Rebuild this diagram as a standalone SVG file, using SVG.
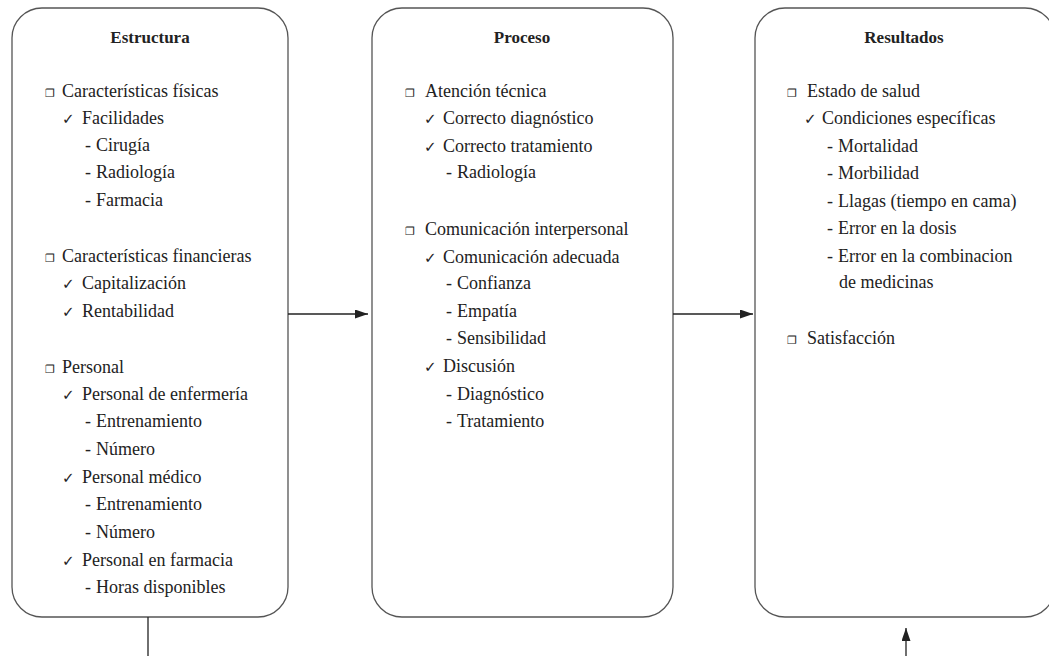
<svg xmlns="http://www.w3.org/2000/svg" width="1049" height="656" viewBox="0 0 1049 656">
<style>
.box{fill:#fff;stroke:#555;stroke-width:1.3}
.t{font-family:"Liberation Serif",serif;font-size:18px;fill:#222}
.h{font-family:"Liberation Serif",serif;font-size:17px;font-weight:bold;fill:#222;text-anchor:middle}
.b{font-family:"DejaVu Sans",sans-serif;font-size:11px;fill:#222}
.c{font-family:"DejaVu Sans",sans-serif;font-size:15px;fill:#222}
.ln{stroke:#222;stroke-width:1.3;fill:none}
</style>
<defs>
<marker id="ah" viewBox="0 0 13 9" refX="13" refY="4.5" markerWidth="13" markerHeight="9" markerUnits="userSpaceOnUse" orient="auto">
<path d="M0,0 L13,4.5 L0,9 Z" fill="#222"/>
</marker>
</defs>
<rect width="1049" height="656" fill="#fff"/>
<g id="estructura">
<rect class="box" x="12" y="8" width="276" height="609" rx="30" ry="30"/>
<text class="h" x="150" y="43">Estructura</text>
<text class="b" x="45" y="97">❐</text><text class="t" x="62" y="97">Características físicas</text>
<text class="c" x="62" y="124">✓</text><text class="t" x="82" y="124">Facilidades</text>
<text class="t" x="85" y="151">-</text><text class="t" x="96" y="151">Cirugía</text>
<text class="t" x="85" y="178">-</text><text class="t" x="96" y="178">Radiología</text>
<text class="t" x="85" y="206">-</text><text class="t" x="96" y="206">Farmacia</text>
<text class="b" x="45" y="262">❐</text><text class="t" x="62" y="262">Características financieras</text>
<text class="c" x="62" y="289">✓</text><text class="t" x="82" y="289">Capitalización</text>
<text class="c" x="62" y="317">✓</text><text class="t" x="82" y="317">Rentabilidad</text>
<text class="b" x="45" y="373">❐</text><text class="t" x="62" y="373">Personal</text>
<text class="c" x="62" y="400">✓</text><text class="t" x="82" y="400">Personal de enfermería</text>
<text class="t" x="85" y="427">-</text><text class="t" x="96" y="427">Entrenamiento</text>
<text class="t" x="85" y="455">-</text><text class="t" x="96" y="455">Número</text>
<text class="c" x="62" y="483">✓</text><text class="t" x="82" y="483">Personal médico</text>
<text class="t" x="85" y="510">-</text><text class="t" x="96" y="510">Entrenamiento</text>
<text class="t" x="85" y="538">-</text><text class="t" x="96" y="538">Número</text>
<text class="c" x="62" y="566">✓</text><text class="t" x="82" y="566">Personal en farmacia</text>
<text class="t" x="85" y="593">-</text><text class="t" x="96" y="593">Horas disponibles</text>
</g>
<g id="proceso">
<rect class="box" x="372" y="8" width="301" height="609" rx="30" ry="30"/>
<text class="h" x="522" y="43">Proceso</text>
<text class="b" x="405" y="97">❐</text><text class="t" x="425" y="97">Atención técnica</text>
<text class="c" x="424" y="124">✓</text><text class="t" x="443" y="124">Correcto diagnóstico</text>
<text class="c" x="424" y="152">✓</text><text class="t" x="443" y="152">Correcto tratamiento</text>
<text class="t" x="446" y="178">-</text><text class="t" x="457" y="178">Radiología</text>
<text class="b" x="405" y="235">❐</text><text class="t" x="425" y="235">Comunicación  interpersonal</text>
<text class="c" x="424" y="263">✓</text><text class="t" x="443" y="263">Comunicación adecuada</text>
<text class="t" x="446" y="289">-</text><text class="t" x="457" y="289">Confianza</text>
<text class="t" x="446" y="317">-</text><text class="t" x="457" y="317">Empatía</text>
<text class="t" x="446" y="344">-</text><text class="t" x="457" y="344">Sensibilidad</text>
<text class="c" x="424" y="372">✓</text><text class="t" x="443" y="372">Discusión</text>
<text class="t" x="446" y="400">-</text><text class="t" x="457" y="400">Diagnóstico</text>
<text class="t" x="446" y="427">-</text><text class="t" x="457" y="427">Tratamiento</text>
</g>
<g id="resultados">
<rect class="box" x="755" y="8" width="300" height="609" rx="30" ry="30"/>
<text class="h" x="904" y="43">Resultados</text>
<text class="b" x="787" y="97">❐</text><text class="t" x="807" y="97">Estado de salud</text>
<text class="c" x="804" y="124">✓</text><text class="t" x="822" y="124">Condiciones específicas</text>
<text class="t" x="827" y="152">-</text><text class="t" x="838" y="152">Mortalidad</text>
<text class="t" x="827" y="179">-</text><text class="t" x="838" y="179">Morbilidad</text>
<text class="t" x="827" y="207">-</text><text class="t" x="838" y="207">Llagas (tiempo en cama)</text>
<text class="t" x="827" y="234">-</text><text class="t" x="838" y="234">Error en la dosis</text>
<text class="t" x="827" y="262">-</text><text class="t" x="838" y="262">Error en la combinacion</text>
<text class="t" x="839" y="288">de medicinas</text>
<text class="b" x="787" y="344">❐</text><text class="t" x="807" y="344">Satisfacción</text>
</g>
<g id="connectors">
<line class="ln" x1="288" y1="314" x2="368" y2="314" marker-end="url(#ah)"/>
<line class="ln" x1="673" y1="314" x2="753" y2="314" marker-end="url(#ah)"/>
<line class="ln" x1="148" y1="617" x2="148" y2="656"/>
<line class="ln" x1="906" y1="656" x2="906" y2="628" marker-end="url(#ah)"/>
</g>
</svg>
